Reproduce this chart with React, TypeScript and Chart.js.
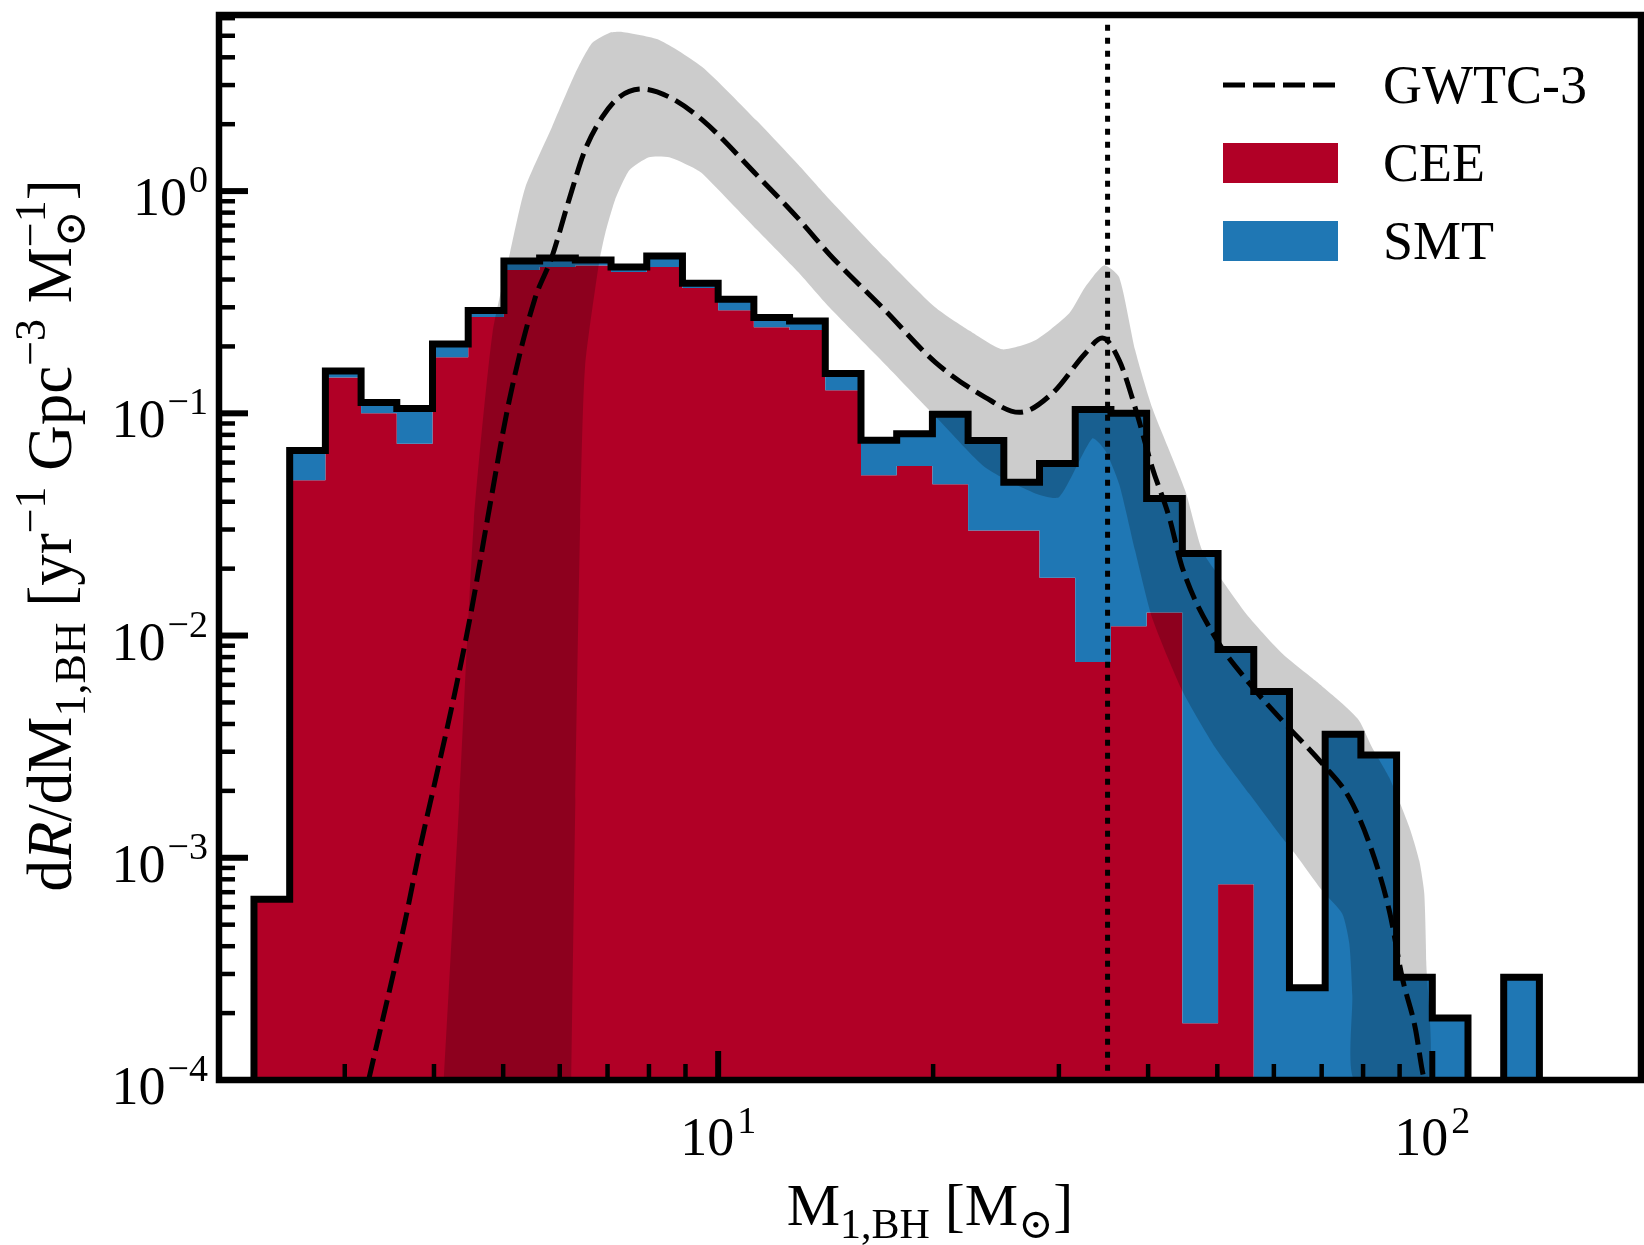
import React, { useEffect, useRef } from "react";
import { Chart, registerables } from "chart.js";

Chart.register(...registerables);

// ---------------- data ----------------
// histogram bin edges (primary BH mass, Msun), 20 log bins per decade
const binEdges = [
  2.2387, 2.5119, 2.8184, 3.1623, 3.5481, 3.9811, 4.4668, 5.0119, 5.6234, 6.3096,
  7.0795, 7.9433, 8.9125, 10.0, 11.22, 12.589, 14.125, 15.849, 17.783, 19.953,
  22.387, 25.119, 28.184, 31.623, 35.481, 39.811, 44.668, 50.119, 56.234, 63.096,
  70.795, 79.433, 89.125, 100.0, 112.2, 125.89, 141.25,
];
// CEE channel rate per bin (stacked bottom)
const ceeRate = [
  6.5e-4, 0.05, 0.145, 0.1, 0.073, 0.179, 0.271, 0.441, 0.455, 0.462,
  0.432, 0.455, 0.366, 0.291, 0.244, 0.237, 0.127, 0.0526, 0.058, 0.048,
  0.0297, 0.0297, 0.0182, 0.0076, 0.011, 0.0127, 1.8e-4, 7.6e-4, 0, 0,
  0, 0, 0, 0, 0, 0,
];
// SMT channel rate per bin (stacked on top of CEE)
const smtRate = [
  0, 0.018, 0.01, 0.012, 0.032, 0.026, 0.019, 0.044, 0.045, 0.028,
  0.023, 0.055, 0.019, 0.035, 0.026, 0.023, 0.024, 0.023, 0.023, 0.051,
  0.0458, 0.0192, 0.0413, 0.0964, 0.089, 0.0287, 0.0232, 0.0079, 0.0056, 0.00026,
  0.0036, 0.0029, 0.00029, 0.00019, 0, 0.00029,
];
// GWTC-3 median
const gwtcMedianMass = [
  3.24, 3.64, 3.82, 4.03, 4.28, 4.52, 4.75, 5.1, 5.53, 5.85,
  6.18, 6.51, 6.88, 7.27, 7.83, 8.54, 9.5, 11.33, 12.96, 14.31,
  17.14, 20.13, 23.66, 26.4, 29.37, 32.66, 34.5, 36.44, 38.37, 40.53,
  42.82, 44.66, 49.68, 55.42, 61.64, 70.14, 76.53, 81.62, 87.07, 90.78,
  94.67, 96.83, 97.45,
];
const gwtcMedianRate = [
  1.0e-4, 5.1e-4, 1.09e-3, 2.33e-3, 5.56e-3, 0.0133, 0.033, 0.1145, 0.323, 0.505,
  0.91, 1.53, 2.15, 2.65, 2.88, 2.65, 2.09, 1.18, 0.75, 0.52,
  0.29, 0.17, 0.118, 0.101, 0.123, 0.186, 0.218, 0.173, 0.106, 0.0571,
  0.034, 0.0202, 0.0098, 0.0061, 0.00414, 0.00265, 0.00186, 0.00116, 5.77e-4, 2.88e-4,
  1.71e-4, 1.1e-4, 1.0e-4,
];
// GWTC-3 credible band, upper edge
const bandUpperMass = [
  4.13, 4.34, 4.55, 4.83, 5.11, 5.37, 5.85, 6.31, 6.66, 7.04,
  7.34, 8.27, 9.5, 11.33, 12.96, 14.31, 17.14, 20.13, 22.5, 24.99,
  27.8, 31.02, 32.66, 34.72, 36.44, 38.37, 40.53, 45.08, 47.64, 50.8,
  55.42, 61.64, 68.57, 74.8, 79.0, 82.4, 87.07, 92.9, 95.9, 97.45,
  98.08, 98.4,
];
const bandUpperRate = [
  1e-4, 1.8e-3, 0.033, 0.229, 0.526, 1.04, 1.94, 3.4, 4.64, 5.15,
  5.2, 4.79, 3.62, 2.07, 1.31, 0.92, 0.5, 0.3, 0.235, 0.194,
  0.213, 0.282, 0.37, 0.464, 0.41, 0.192, 0.106, 0.045, 0.0241, 0.0177,
  0.01205, 0.0083, 0.00627, 0.00494, 0.00414, 0.00313, 0.00229, 0.00137, 9.7e-4, 6.9e-4,
  3.4e-4, 1e-4,
];
// GWTC-3 credible band, lower edge
const bandLowerMass = [
  6.23, 6.31, 6.41, 6.51, 6.81, 6.95, 7.17, 7.51, 8.0, 8.54,
  9.2, 9.5, 11.33, 12.96, 14.31, 17.14, 20.39, 23.66, 27.8, 30.03,
  33.41, 34.83, 36.44, 38.37, 40.53, 44.66, 49.68, 55.42, 61.64, 64.28,
  70.14, 74.8, 76.53, 77.27, 77.8,
];
const bandLowerRate = [
  1e-4, 1.8e-3, 0.033, 0.161, 0.474, 0.647, 0.91, 1.24, 1.42, 1.42,
  1.28, 1.2, 0.67, 0.43, 0.3, 0.166, 0.093, 0.057, 0.0436, 0.042,
  0.077, 0.068, 0.048, 0.024, 0.012, 0.00565, 0.00313, 0.00194, 0.00123, 0.00104,
  7.1e-4, 5.6e-4, 4.1e-4, 2.4e-4, 1e-4,
];
const peakMass = 35.1;

const legendLabels = ["GWTC-3", "CEE", "SMT"];
const xMajorTicks = [10, 100];
const xTickExponents = ["1", "2"];
const yMajorTicks = [1e-4, 1e-3, 1e-2, 1e-1, 1];
const yTickExponents = ["\u22124", "\u22123", "\u22122", "\u22121", "0"];
const minorMultiples = [2, 3, 4, 5, 6, 7, 8, 9];

// ---------------- style ----------------
const W = 1644;
const H = 1245;
const X_MIN = 2;
const X_MAX = 196;
const Y_MIN = 1e-4;
const Y_MAX = 6.2;
const FLOOR = 1e-7; // empty bins drawn down past the axis
const RED = "#b10026";
const BLUE = "#1f77b4";
const BAND = "rgba(0,0,0,0.2)";
const FONT = '"Liberation Serif", "DejaVu Serif", serif';

type Seg = { text: string; size: number; dy: number; italic?: boolean; stack?: Seg };

const font = (s: Seg) => `${s.italic ? "italic " : ""}${s.size}px ${FONT}`;
function segWidth(ctx: CanvasRenderingContext2D, s: Seg) {
  ctx.font = font(s);
  let w = ctx.measureText(s.text).width;
  if (s.stack) {
    ctx.font = font(s.stack);
    w = Math.max(w, ctx.measureText(s.stack.text).width);
  }
  return w;
}
function segsWidth(ctx: CanvasRenderingContext2D, segs: Seg[]) {
  return segs.reduce((a, s) => a + segWidth(ctx, s), 0);
}
function drawSegs(ctx: CanvasRenderingContext2D, segs: Seg[], x: number, y: number) {
  for (const s of segs) {
    ctx.font = font(s);
    ctx.fillText(s.text, x, y + s.dy);
    if (s.stack) {
      ctx.font = font(s.stack);
      ctx.fillText(s.stack.text, x, y + s.stack.dy);
    }
    x += segWidth(ctx, s);
  }
}

const TF = 60; // x title font
const SF = 42; // sub/sup font
const YF = 63; // y title font
const YS = 44;
const xTitle: Seg[] = [
  { text: "M", size: TF, dy: 0 },
  { text: "1,BH", size: SF, dy: 13 },
  { text: " [M", size: TF, dy: 0 },
  { text: "\u2299", size: SF, dy: 13 },
  { text: "]", size: TF, dy: 0 },
];
const yTitle: Seg[] = [
  { text: "d", size: YF, dy: 0 },
  { text: "R", size: YF, dy: 0, italic: true },
  { text: "/dM", size: YF, dy: 0 },
  { text: "1,BH", size: YS, dy: 14 },
  { text: " [yr", size: YF, dy: 0 },
  { text: "\u22121", size: YS, dy: -26 },
  { text: " Gpc", size: YF, dy: 0 },
  { text: "\u22123", size: YS, dy: -26 },
  { text: " M", size: YF, dy: 0 },
  { text: "\u2299", size: YS, dy: 14, stack: { text: "\u22121", size: YS, dy: -26 } },
  { text: "]", size: YF, dy: 0 },
];

const isMajor = (v: number) => {
  const l = Math.log10(v);
  return Math.abs(l - Math.round(l)) < 1e-6;
};
const buildTicks = (majors: number[], lo: number, hi: number) => {
  const out: number[] = [];
  for (const m of majors.concat([majors[majors.length - 1] * 10])) {
    for (const k of [1, ...minorMultiples]) {
      const v = (m / 10) * k * (k === 1 ? 10 : 1);
      if (v >= lo * 0.999 && v <= hi * 1.001 && !out.includes(v)) out.push(v);
    }
  }
  return out.sort((a, b) => a - b);
};

const decorPlugin = {
  id: "decor",
  afterDatasetsDraw(chart: any) {
    const { ctx, chartArea: a, scales } = chart;
    const xs = scales.x;
    const ys = scales.y;
    ctx.save();
    ctx.strokeStyle = "#000";
    ctx.lineCap = "butt";
    for (const t of ys.ticks) {
      const py = ys.getPixelForValue(t.value);
      const maj = isMajor(t.value);
      ctx.lineWidth = maj ? 6 : 4.5;
      ctx.beginPath();
      ctx.moveTo(a.left, py);
      ctx.lineTo(a.left + (maj ? 29 : 16), py);
      ctx.stroke();
    }
    for (const t of xs.ticks) {
      const px = xs.getPixelForValue(t.value);
      const maj = isMajor(t.value);
      ctx.lineWidth = maj ? 6 : 4.5;
      ctx.beginPath();
      ctx.moveTo(px, a.bottom);
      ctx.lineTo(px, a.bottom - (maj ? 29 : 16));
      ctx.stroke();
    }
    ctx.lineWidth = 6.5;
    ctx.strokeRect(a.left, a.top, a.right - a.left, a.bottom - a.top);

    // legend
    const hx0 = 1223;
    const hx1 = 1338;
    const tx = 1383;
    const rows = [85, 163, 241];
    ctx.lineWidth = 5;
    ctx.setLineDash([22, 8]);
    ctx.beginPath();
    ctx.moveTo(hx0, rows[0]);
    ctx.lineTo(hx1, rows[0]);
    ctx.stroke();
    ctx.setLineDash([]);
    ctx.fillStyle = RED;
    ctx.fillRect(hx0, rows[1] - 20, hx1 - hx0, 40);
    ctx.fillStyle = BLUE;
    ctx.fillRect(hx0, rows[2] - 20, hx1 - hx0, 40);
    ctx.fillStyle = "#000";
    ctx.font = `54px ${FONT}`;
    ctx.textBaseline = "alphabetic";
    ctx.textAlign = "left";
    legendLabels.forEach((l, i) => ctx.fillText(l, tx, rows[i] + 18));
    ctx.restore();
  },
  afterDraw(chart: any) {
    const { ctx, chartArea: a, scales } = chart;
    const xs = scales.x;
    const ys = scales.y;
    ctx.save();
    ctx.fillStyle = "#000";
    ctx.textBaseline = "alphabetic";
    ctx.textAlign = "left";
    const base: Seg = { text: "10", size: 54, dy: 0 };
    // y tick labels
    yMajorTicks.forEach((v, i) => {
      const py = ys.getPixelForValue(v);
      const ex: Seg = { text: yTickExponents[i], size: 38, dy: 0 };
      const we = segWidth(ctx, ex);
      const wb = segWidth(ctx, base);
      const right = a.left - 11;
      ctx.font = font(ex);
      ctx.fillText(ex.text, right - we, py + 1);
      ctx.font = font(base);
      ctx.fillText("10", right - we - 2 - wb, py + 24);
    });
    // x tick labels
    xMajorTicks.forEach((v, i) => {
      const px = xs.getPixelForValue(v);
      const ex: Seg = { text: xTickExponents[i], size: 38, dy: 0 };
      const we = segWidth(ctx, ex);
      const wb = segWidth(ctx, base);
      const x0 = px - (wb + 3 + we) / 2;
      ctx.font = font(base);
      ctx.fillText("10", x0, 1155);
      ctx.font = font(ex);
      ctx.fillText(ex.text, x0 + wb + 3, 1133);
    });
    // x title
    const wx = segsWidth(ctx, xTitle);
    drawSegs(ctx, xTitle, (a.left + a.right) / 2 - wx / 2, 1225);
    // y title
    const wy = segsWidth(ctx, yTitle);
    ctx.translate(71, (a.top + a.bottom) / 2 - 12);
    ctx.rotate(-Math.PI / 2);
    drawSegs(ctx, yTitle, -wy / 2, 0);
    ctx.restore();
  },
};

export default function App() {
  const ref = useRef<HTMLCanvasElement | null>(null);
  useEffect(() => {
    const canvas = ref.current;
    if (!canvas) return;
    const nb = ceeRate.length;
    const totalRate = ceeRate.map((c, i) => c + smtRate[i]);
    const fl = (v: number) => (v > 0 ? v : FLOOR);
    const stepPoints = (vals: number[]) => {
      const pts = vals.map((v, i) => ({ x: binEdges[i], y: fl(v) }));
      pts.push({ x: binEdges[nb], y: fl(vals[nb - 1]) });
      return pts;
    };
    const outline = [
      { x: binEdges[0], y: FLOOR },
      ...stepPoints(totalRate),
      { x: binEdges[nb], y: FLOOR },
    ];
    const band = [
      ...bandUpperMass.map((m, i) => ({ x: m, y: bandUpperRate[i] })),
      ...bandLowerMass.map((m, i) => ({ x: m, y: bandLowerRate[i] })).reverse(),
    ];
    const median = gwtcMedianMass.map((m, i) => ({ x: m, y: gwtcMedianRate[i] }));
    const vline = [
      { x: peakMass, y: FLOOR },
      { x: peakMass, y: 100 },
    ];

    const chart = new Chart(canvas, {
      type: "line",
      data: {
        datasets: [
          {
            label: "CEE",
            data: stepPoints(ceeRate),
            stepped: "before",
            borderWidth: 0,
            borderColor: "rgba(0,0,0,0)",
            backgroundColor: RED,
            fill: "start",
            pointRadius: 0,
            order: 6,
          },
          {
            label: "SMT",
            data: stepPoints(totalRate),
            stepped: "before",
            borderWidth: 0,
            borderColor: "rgba(0,0,0,0)",
            backgroundColor: BLUE,
            fill: 0,
            pointRadius: 0,
            order: 5,
          },
          {
            label: "band",
            data: band,
            borderWidth: 0,
            borderColor: "rgba(0,0,0,0)",
            backgroundColor: BAND,
            fill: "shape",
            tension: 0.2,
            pointRadius: 0,
            order: 4,
          },
          {
            label: "total",
            data: outline,
            stepped: "before",
            borderWidth: 7,
            borderColor: "#000",
            borderJoinStyle: "miter",
            borderCapStyle: "butt",
            fill: false,
            pointRadius: 0,
            order: 3,
          },
          {
            label: "GWTC-3",
            data: median,
            borderWidth: 5,
            borderColor: "#000",
            borderDash: [22, 8],
            cubicInterpolationMode: "monotone",
            fill: false,
            pointRadius: 0,
            order: 2,
          },
          {
            label: "peak",
            data: vline,
            borderWidth: 5,
            borderColor: "#000",
            borderDash: [6, 7],
            fill: false,
            pointRadius: 0,
            order: 1,
          },
        ] as any,
      },
      options: {
        animation: false,
        responsive: false,
        maintainAspectRatio: false,
        devicePixelRatio: 1,
        layout: { padding: { top: 15, right: 3, left: 0, bottom: 0 } },
        plugins: { legend: { display: false }, tooltip: { enabled: false } },
        scales: {
          x: {
            type: "logarithmic",
            min: X_MIN,
            max: X_MAX,
            grid: { display: false },
            border: { display: false },
            ticks: { display: false },
            afterBuildTicks: (s: any) => {
              s.ticks = buildTicks(xMajorTicks, X_MIN, X_MAX).map((v) => ({ value: v }));
            },
            afterFit: (s: any) => {
              s.height = 165;
            },
          },
          y: {
            type: "logarithmic",
            min: Y_MIN,
            max: Y_MAX,
            grid: { display: false },
            border: { display: false },
            ticks: { display: false },
            afterBuildTicks: (s: any) => {
              s.ticks = buildTicks(yMajorTicks, Y_MIN, Y_MAX).map((v) => ({ value: v }));
            },
            afterFit: (s: any) => {
              s.width = 219;
            },
          },
        },
      } as any,
      plugins: [decorPlugin],
    });
    return () => chart.destroy();
  }, []);

  return (
    <div style={{ position: "absolute", left: 0, top: 0, width: W, height: H, background: "#fff" }}>
      <canvas ref={ref} width={W} height={H} style={{ width: W, height: H, display: "block" }} />
    </div>
  );
}
